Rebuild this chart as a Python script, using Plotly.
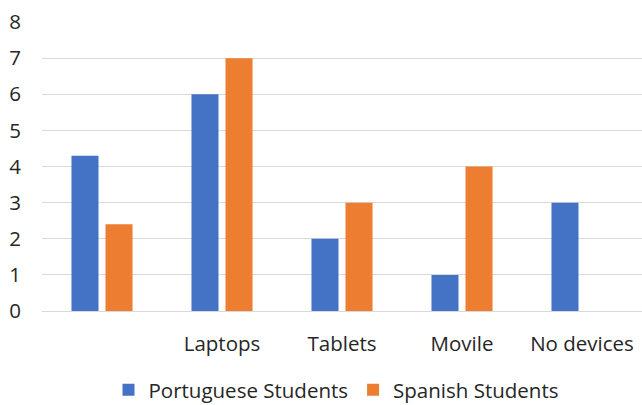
import plotly.graph_objects as go

categories = [" ", "Laptops", "Tablets", "Movile", "No devices"]
portuguese = [4.3, 6, 2, 1, 3]
spanish = [2.4, 7, 3, 4, 0]
y_ticks = [0, 1, 2, 3, 4, 5, 6, 7, 8]

FONT = "Open Sans"
FS = 20.5

fig = go.Figure()
fig.add_trace(go.Bar(x=categories, y=portuguese, name="Portuguese Students",
                     marker=dict(color="#4472C4", line=dict(width=0))))
fig.add_trace(go.Bar(x=categories, y=spanish, name="Spanish Students",
                     marker=dict(color="#ED7D31", line=dict(width=0))))

fig.update_layout(
    width=642, height=405,
    margin=dict(l=42, r=0, t=22, b=94, autoexpand=False),
    paper_bgcolor="white", plot_bgcolor="white",
    barmode="group", bargap=0.433, bargroupgap=0.206,
    font=dict(family=FONT, size=FS, color="#262626"),
    showlegend=True,
    legend=dict(orientation="h", x=0.49, xanchor="center",
                yref="container", y=0.037, yanchor="middle",
                font=dict(family=FONT, size=FS, color="#262626"),
                traceorder="normal"),
)
fig.update_xaxes(showgrid=False, showline=False, ticks="", tickfont=dict(size=FS),
                 ticklabelstandoff=18, automargin=False)
fig.update_yaxes(range=[0, 8], tickvals=y_ticks, showgrid=True, gridcolor="#D9D9D9",
                 gridwidth=1.3, zeroline=True, zerolinecolor="#D9D9D9", zerolinewidth=1.3,
                 showline=False, ticks="", tickfont=dict(size=FS), ticklabelstandoff=20,
                 automargin=False)

fig.write_html("out.html")
